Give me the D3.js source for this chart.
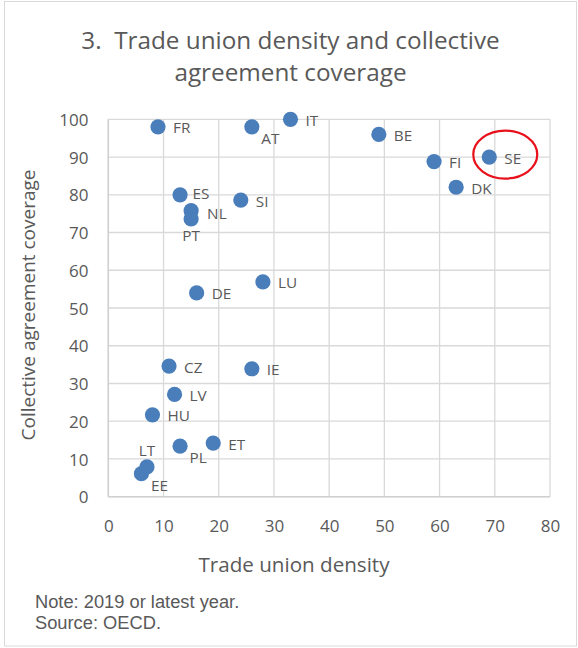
<!DOCTYPE html>
<html>
<head>
<meta charset="utf-8">
<script src="https://cdn.jsdelivr.net/npm/d3@7"></script>
<style>
  html, body { margin: 0; padding: 0; background: #fff; }
  svg { display: block; }
</style>
</head>
<body>
<script>
// ---- Data ----
const countries    = ["FR","AT","IT","BE","FI","SE","DK","ES","SI","NL","PT","LU","DE","CZ","IE","LV","HU","PL","ET","LT","EE"];
const unionDensity = [9,   26,  33,  49,  59,  69,  63,  13,  24,  15,  15,  28,  16,  11,  26,  12,  8,   13,  19,  7,   6];
const coverage     = [98,  98,  100, 96,  88.8,90,  82,  80,  78.6,75.8,73.6,56.9,54,  34.6,33.9,27.1,21.7,13.4,14.2,7.9, 6.1];
const xTicks = [0,10,20,30,40,50,60,70,80];
const yTicks = [0,10,20,30,40,50,60,70,80,90,100];
const titleLines = ["3.\u00a0 Trade union density and collective", "agreement coverage"];
const xTitle = "Trade union density";
const yTitle = "Collective agreement coverage";
const notes = ["Note: 2019 or latest year.", "Source: OECD."];
const highlighted = "SE";

// label placement (layout only)
const labelPlace = { AT: "br", PT: "b", PL: "br", LT: "t", EE: "br", ES: "rl", NL: "rd" };

const W = 578, H = 648;
const svg = d3.select("body").append("svg").attr("width", W).attr("height", H);

const textCol = "#595959", gridCol = "#d9d9d9";
const calFont = "'Open Sans', sans-serif";

// outer frame
svg.append("rect").attr("x", 4.5).attr("y", 1.5).attr("width", 572).attr("height", 644.5)
  .attr("fill", "#fff").attr("stroke", "#d9d9d9").attr("stroke-width", 1);

const x = d3.scaleLinear().domain([0, 80]).range([108.3, 550]);
const y = d3.scaleLinear().domain([0, 100]).range([496.7, 119.3]);

// gridlines
const g = svg.append("g");
g.selectAll("line.v").data(xTicks).join("line")
  .attr("x1", d => x(d)).attr("x2", d => x(d)).attr("y1", y(0)).attr("y2", y(100))
  .attr("stroke", gridCol).attr("stroke-width", 1.3);
g.selectAll("line.h").data(yTicks).join("line")
  .attr("x1", x(0)).attr("x2", x(80)).attr("y1", d => y(d)).attr("y2", d => y(d))
  .attr("stroke", gridCol).attr("stroke-width", 1.3);

// axes (labels only)
const xAxis = d3.axisBottom(x).tickValues(xTicks).tickSize(0).tickPadding(0);
const yAxis = d3.axisLeft(y).tickValues(yTicks).tickSize(0).tickPadding(0);
const gx = svg.append("g").attr("transform", `translate(0,${y(0)})`).call(xAxis);
const gy = svg.append("g").attr("transform", `translate(88.5,0)`).call(yAxis);
[gx, gy].forEach(a => {
  a.select(".domain").remove();
  a.selectAll("text").attr("fill", textCol).style("font-family", calFont).style("font-size", "17px");
});
gx.selectAll("text").attr("dy", null).attr("y", 35.5);
gy.selectAll("text").attr("dy", "0.36em").attr("x", 0);

// axis lines
svg.append("line").attr("x1", x(0)).attr("x2", x(0)).attr("y1", y(0)).attr("y2", y(100))
  .attr("stroke", "#d0d0d0").attr("stroke-width", 1.5);
svg.append("line").attr("x1", x(0)).attr("x2", x(80)).attr("y1", y(0)).attr("y2", y(0))
  .attr("stroke", "#d0d0d0").attr("stroke-width", 1.5);

// title
svg.append("g").selectAll("text").data(titleLines).join("text")
  .attr("x", 290.5).attr("y", (d, i) => 49.3 + i * 31.7)
  .attr("text-anchor", "middle").attr("fill", textCol)
  .style("font-family", calFont).style("font-size", "24.3px").text(d => d);

// axis titles
svg.append("text").attr("x", 294).attr("y", 572).attr("text-anchor", "middle")
  .attr("fill", textCol).style("font-family", calFont).style("font-size", "20.6px").text(xTitle);
svg.append("text").attr("transform", "translate(35,305) rotate(-90)").attr("text-anchor", "middle")
  .attr("fill", textCol).style("font-family", calFont).style("font-size", "19px").text(yTitle);

// notes
svg.append("g").selectAll("text").data(notes).join("text")
  .attr("x", 35).attr("y", (d, i) => 607.5 + i * 21)
  .attr("fill", textCol).style("font-family", "'Liberation Sans', Arial, sans-serif")
  .style("font-size", "18.3px").text(d => d);

// points
const pts = countries.map((c, i) => ({ c, xv: unionDensity[i], yv: coverage[i] }));
svg.append("g").selectAll("circle").data(pts).join("circle")
  .attr("cx", d => x(d.xv)).attr("cy", d => y(d.yv)).attr("r", 7.6)
  .attr("fill", "#4a7ebb");

// labels
const off = {
  r:  { dx: 15, dy: 1, anchor: "start" },
  rl: { dx: 12.5, dy: -1, anchor: "start" },
  rd: { dx: 16, dy: 2.5, anchor: "start" },
  br: { dx: 9.5, dy: 11.5, anchor: "start" },
  b:  { dx: 0, dy: 17, anchor: "middle" },
  t:  { dx: 0, dy: -16, anchor: "middle" }
};
svg.append("g").selectAll("text").data(pts).join("text")
  .each(function(d) {
    const o = off[labelPlace[d.c] || "r"];
    d3.select(this).attr("x", x(d.xv) + o.dx).attr("y", y(d.yv) + o.dy)
      .attr("text-anchor", o.anchor);
  })
  .attr("dy", "0.36em").attr("fill", textCol)
  .style("font-family", calFont).style("font-size", "15.3px").text(d => d.c);

// highlight ellipse
const hi = pts.find(p => p.c === highlighted);
svg.append("ellipse").attr("cx", x(hi.xv) + 16).attr("cy", y(hi.yv) - 2.5)
  .attr("rx", 32).attr("ry", 24).attr("fill", "none")
  .attr("stroke", "#e8101a").attr("stroke-width", 2.2);
</script>
</body>
</html>
